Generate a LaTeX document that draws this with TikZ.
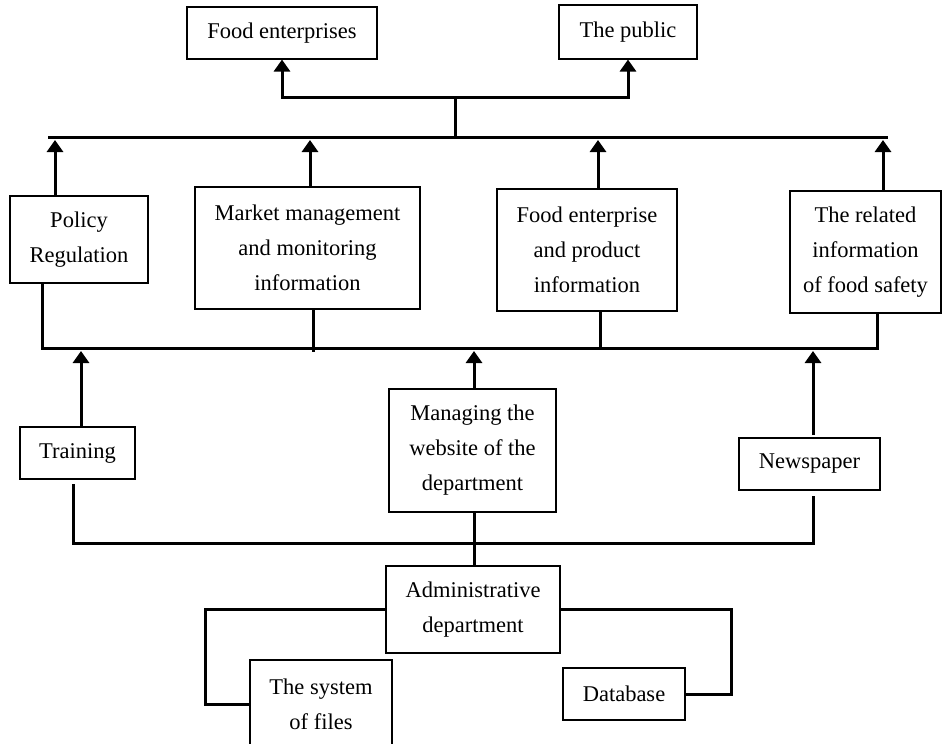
\documentclass[tikz,border=0pt]{standalone}
\usepackage{fontspec}
\setmainfont{Liberation Serif}
\usetikzlibrary{arrows.meta,calc}
\begin{document}
\begin{tikzpicture}[x=1pt,y=-1pt,
  box/.style={draw,line width=1.1pt,inner sep=0pt,align=center,font=\fontsize{22.5}{35}\selectfont},
  conn/.style={line width=3pt},
  arr/.style={conn,-{Triangle[width=16pt,length=12pt]}}]
\useasboundingbox (0,0) rectangle (943,744);
\clip (0,0) rectangle (943,744);
% boxes
\node[box,minimum width=190pt,minimum height=52pt] (fe) at (282,33) {Food enterprises};
\node[box,minimum width=138pt,minimum height=54pt] (pub) at (628,32) {The public};
\node[box,minimum width=138pt,minimum height=87pt] (pol) at (79,239.5) {Policy\\Regulation};
\node[box,minimum width=225pt,minimum height=122pt] (mkt) at (307.5,248) {Market management\\and monitoring\\information};
\node[box,minimum width=180pt,minimum height=122pt] (fep) at (587,250) {Food enterprise\\and product\\information};
\node[box,minimum width=151pt,minimum height=122pt] (rel) at (865.5,252) {The related\\information\\of food safety};
\node[box,minimum width=115pt,minimum height=52pt] (trn) at (77.5,453) {Training};
\node[box,minimum width=167pt,minimum height=123pt] (web) at (472.5,450.5) {Managing the\\website of the\\department};
\node[box,minimum width=141pt,minimum height=52pt] (news) at (809.5,464) {Newspaper};
\node[box,minimum width=174pt,minimum height=87pt] (adm) at (473,609.5) {Administrative\\department};
\node[box,minimum width=142pt,minimum height=88pt] (files) at (321,704) {The system\\of files};
\node[box,minimum width=122pt,minimum height=52pt] (db) at (624,694) {Database};
% coordinates
\coordinate (hub) at (455,97);
\coordinate (tbus) at (455,137);
\coordinate (tbL) at (48,137);
\coordinate (tbR) at (888,137);
\coordinate (t1) at (55,140);
\coordinate (t2) at (310,140);
\coordinate (t3) at (598,140);
\coordinate (t4) at (883,140);
\coordinate (bL) at (42,348);
\coordinate (bR) at (877,348);
\coordinate (b2) at (313,352);
\coordinate (b3) at (600,348);
\coordinate (u1) at (81,351);
\coordinate (u2) at (474,351);
\coordinate (u3) at (813,351);
\coordinate (nstart) at (813,435);
\coordinate (lt) at (73,484);
\coordinate (lb) at (73,543);
\coordinate (rb) at (813,543);
\coordinate (rt) at (813,496);
\coordinate (al) at (205,609.5);
\coordinate (ar) at (731,609.5);
% top connectors
\draw[arr] (hub) -| (fe.south);
\draw[arr] (hub) -| (pub.south);
\draw[conn] (hub) -- (tbus);
\draw[conn] (tbL) -- (tbR);
\draw[arr] (pol.north -| t1) -- (t1);
\draw[arr] (mkt.north -| t2) -- (t2);
\draw[arr] (fep.north -| t3) -- (t3);
\draw[arr] (rel.north -| t4) -- (t4);
% bottom bus
\draw[conn] (pol.south -| bL) -- (bL) -- (bR) -- (rel.south -| bR);
\draw[conn] (mkt.south -| b2) -- (b2);
\draw[conn] (fep.south -| b3) -- (b3);
\draw[arr] (trn.north -| u1) -- (u1);
\draw[arr] (web.north -| u2) -- (u2);
\draw[arr] (nstart) -- (u3);
% lower connectors
\draw[conn] (lt) -- (lb) -- (rb) -- (rt);
\draw[conn] (web.south -| u2) -- (adm.north -| u2);
\draw[conn] (adm.west) -- (al) |- (files.west);
\draw[conn] (adm.east) -- (ar) |- (db.east);
\end{tikzpicture}
\end{document}
